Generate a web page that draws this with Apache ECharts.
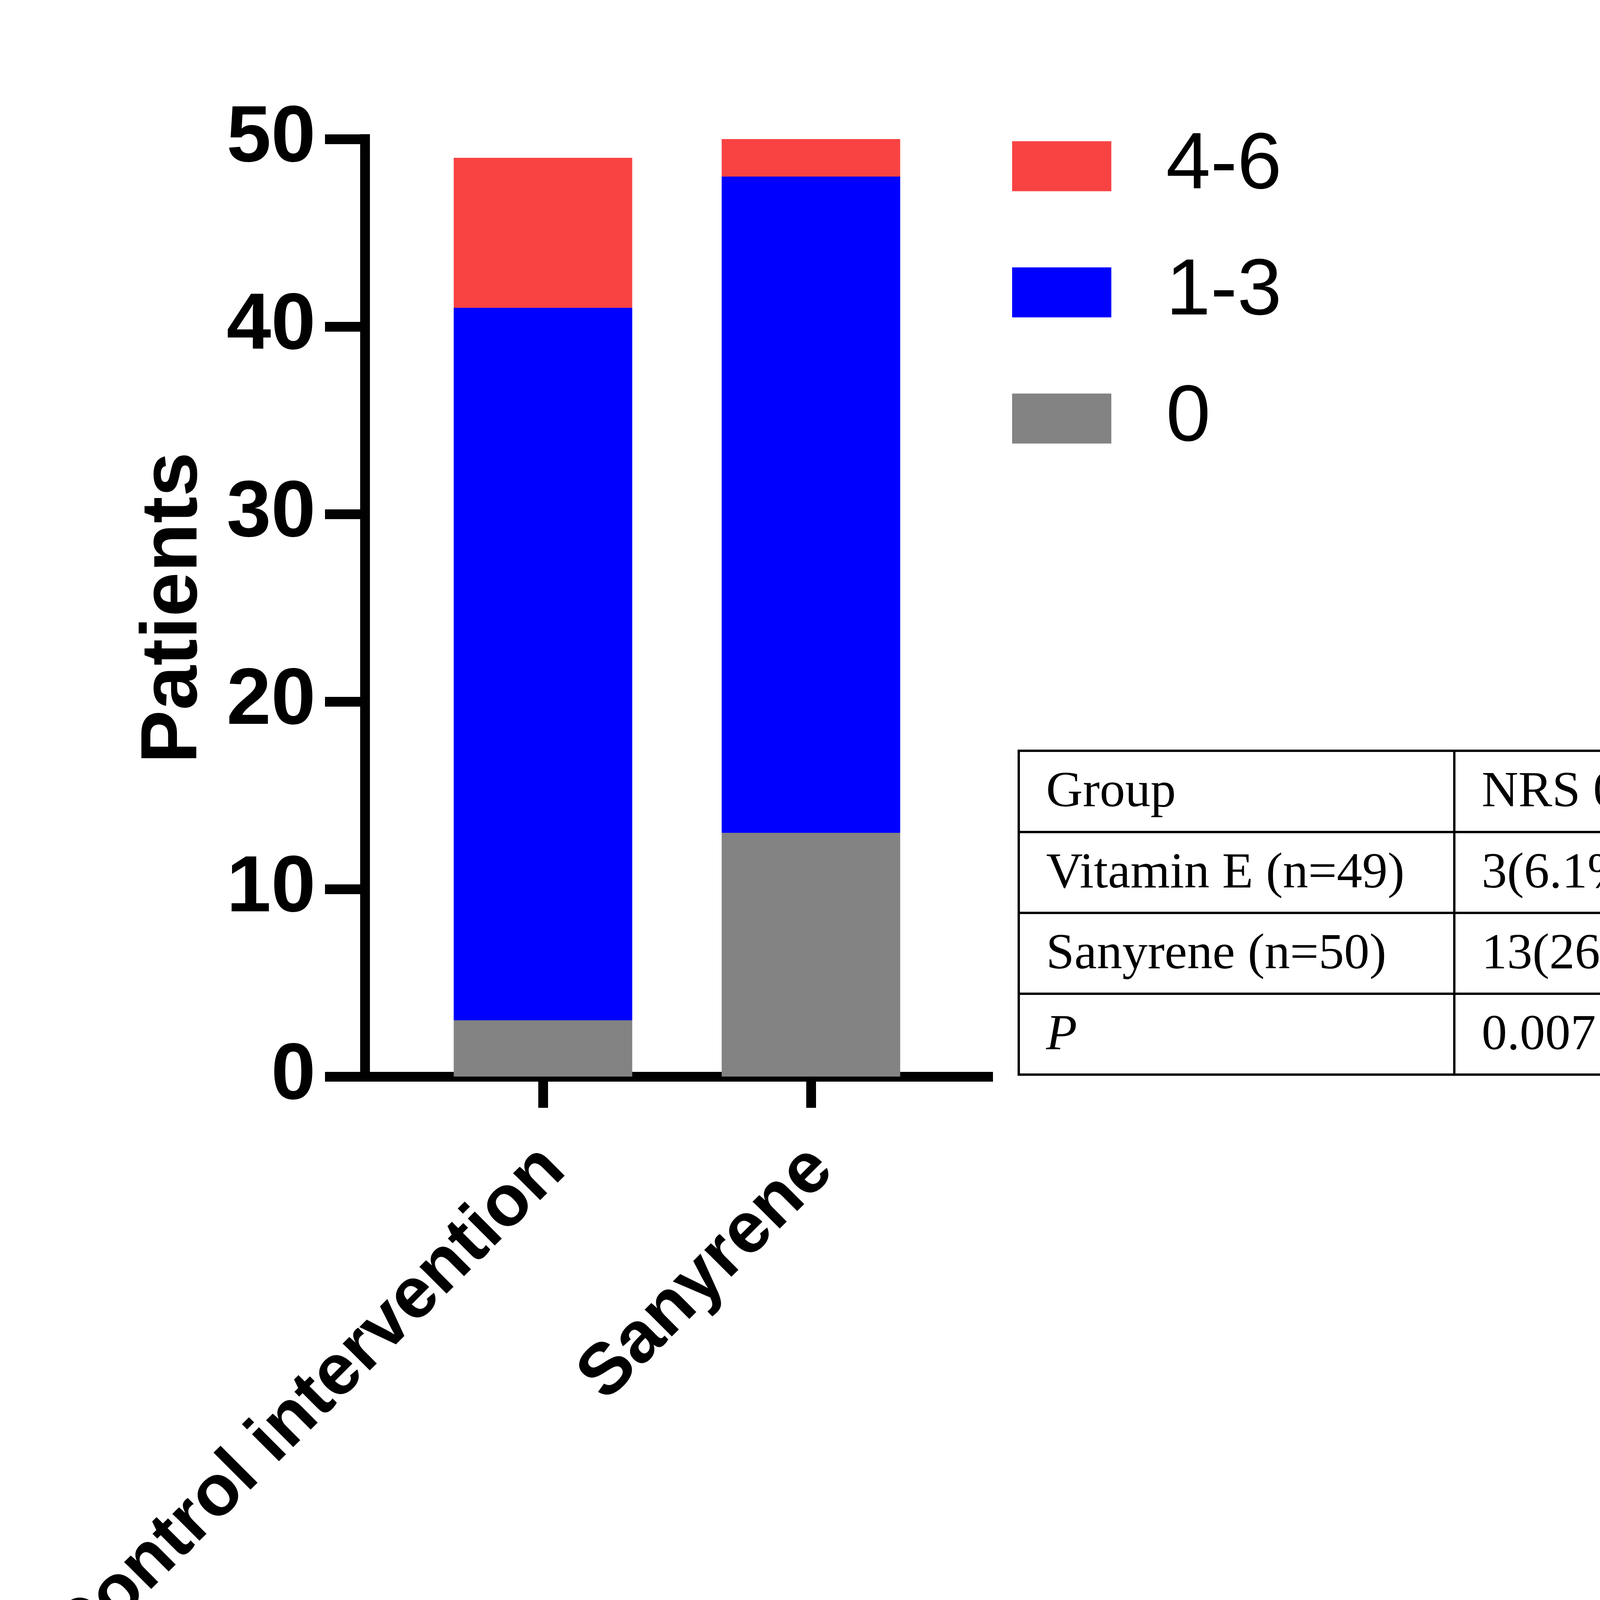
<!DOCTYPE html>
<html>
<head>
<meta charset="utf-8">
<title>NRS patients</title>
<script src="https://cdn.jsdelivr.net/npm/echarts@6/dist/echarts.min.js"></script>
<style>
  html, body { margin: 0; padding: 0; background: #fff; }
  #chart { width: 7030px; height: 4368px; }
</style>
</head>
<body>
<div id="chart"></div>
<script>
// 数据
var groups = ['Control intervention', 'Sanyrene'];
var nrs0 = [3, 13];
var nrs13 = [38, 35];
var nrs46 = [8, 2];
var yTicks = [0, 10, 20, 30, 40, 50];

// 表格内容
var tableHeader = ['Group', 'NRS 0', 'NRS1-3', 'NRS4-6'];
var tableRows = [
  ['Vitamin E (n=49)', '3(6.1%)', '38(77.6%)', '8(16.3%)'],
  ['Sanyrene (n=50)', '13(26.0%)', '35(70.0%)', '2(4.0%)'],
  ['P', '0.007', '0.393', '0.089']
];

var sans = 'Arial, "Liberation Sans", sans-serif';
var serif = '"Times New Roman", "Liberation Serif", serif';

// 表格位置
var colX = [2608, 3723, 4413, 5104, 5744];
var rowY = [1922, 2130, 2337, 2544, 2751];

function buildTable() {
  var els = [];
  var i, j;
  for (i = 0; i < rowY.length; i++) {
    els.push({
      type: 'line',
      shape: { x1: colX[0] - 3, y1: rowY[i], x2: colX[colX.length - 1] + 3, y2: rowY[i] },
      style: { stroke: '#000', lineWidth: 6 }
    });
  }
  for (j = 0; j < colX.length; j++) {
    els.push({
      type: 'line',
      shape: { x1: colX[j], y1: rowY[0], x2: colX[j], y2: rowY[rowY.length - 1] },
      style: { stroke: '#000', lineWidth: 6 }
    });
  }
  var all = [tableHeader].concat(tableRows);
  for (i = 0; i < all.length; i++) {
    for (j = 0; j < all[i].length; j++) {
      var italic = (all[i][j] === 'P' && j === 0);
      els.push({
        type: 'text',
        x: colX[j] + 70,
        y: (rowY[i] + rowY[i + 1]) / 2 + 4,
        style: {
          text: all[i][j],
          fill: '#000',
          fontSize: 130,
          fontFamily: serif,
          fontStyle: italic ? 'italic' : 'normal',
          align: 'left',
          verticalAlign: 'middle'
        }
      });
    }
  }
  return els;
}

var chart = echarts.init(document.getElementById('chart'), null, { renderer: 'canvas' });

var option = {
  animation: false,
  backgroundColor: '#fff',
  legend: {
    orient: 'vertical',
    left: 2591,
    top: 323,
    padding: 0,
    itemWidth: 254,
    itemHeight: 128,
    itemGap: 118,
    icon: 'rect',
    data: ['4-6', '1-3', '0'],
    textStyle: {
      fontSize: 205,
      fontFamily: sans,
      color: '#000',
      padding: [0, 0, 0, 135]
    }
  },
  grid: [
    { left: 1047, right: 7030 - 2419, top: 356, bottom: 4368 - 2756, containLabel: false },
    { left: 832, right: 7030 - 2542, top: 356, bottom: 4368 - 2756, containLabel: false }
  ],
  xAxis: [
    {
      type: 'category',
      gridIndex: 0,
      data: groups,
      axisLine: { show: false },
      axisTick: {
        show: true,
        alignWithLabel: true,
        length: 80,
        lineStyle: { color: '#000', width: 25, cap: 'butt' }
      },
      axisLabel: {
        rotate: 45,
        interval: 0,
        margin: 237,
        padding: [44, -39, 0, 0],
        color: '#000',
        fontSize: 185,
        fontWeight: 'bold',
        fontFamily: sans
      }
    },
    {
      type: 'value',
      gridIndex: 1,
      axisLine: { show: true, onZero: false, lineStyle: { color: '#000', width: 25, cap: 'butt' } },
      axisTick: { show: false },
      axisLabel: { show: false },
      splitLine: { show: false }
    }
  ],
  yAxis: [
    {
      type: 'value',
      gridIndex: 0,
      min: 0,
      max: 50,
      interval: 10,
      offset: 113,
      name: 'Patients',
      nameLocation: 'middle',
      nameGap: 385,
      nameTextStyle: { fontSize: 205, fontWeight: 'bold', fontFamily: sans, color: '#000' },
      axisLine: { show: true, lineStyle: { color: '#000', width: 25, cap: 'square' } },
      axisTick: { show: true, length: 102, lineStyle: { color: '#000', width: 25, cap: 'butt' } },
      axisLabel: {
        margin: 126,
        color: '#000',
        fontSize: 205,
        fontWeight: 'bold',
        fontFamily: sans,
        formatter: function (v) { return yTicks.indexOf(v) >= 0 ? String(v) : ''; }
      },
      splitLine: { show: false }
    },
    {
      type: 'value',
      gridIndex: 1,
      show: false
    }
  ],
  series: [
    {
      name: '0',
      type: 'bar',
      stack: 'total',
      barWidth: 457,
      xAxisIndex: 0,
      yAxisIndex: 0,
      itemStyle: { color: '#838383' },
      data: nrs0
    },
    {
      name: '1-3',
      type: 'bar',
      stack: 'total',
      barWidth: 457,
      xAxisIndex: 0,
      yAxisIndex: 0,
      itemStyle: { color: '#0000FF' },
      data: nrs13
    },
    {
      name: '4-6',
      type: 'bar',
      stack: 'total',
      barWidth: 457,
      xAxisIndex: 0,
      yAxisIndex: 0,
      itemStyle: { color: '#F94343' },
      data: nrs46
    }
  ],
  graphic: buildTable()
};

chart.setOption(option);
</script>
</body>
</html>
